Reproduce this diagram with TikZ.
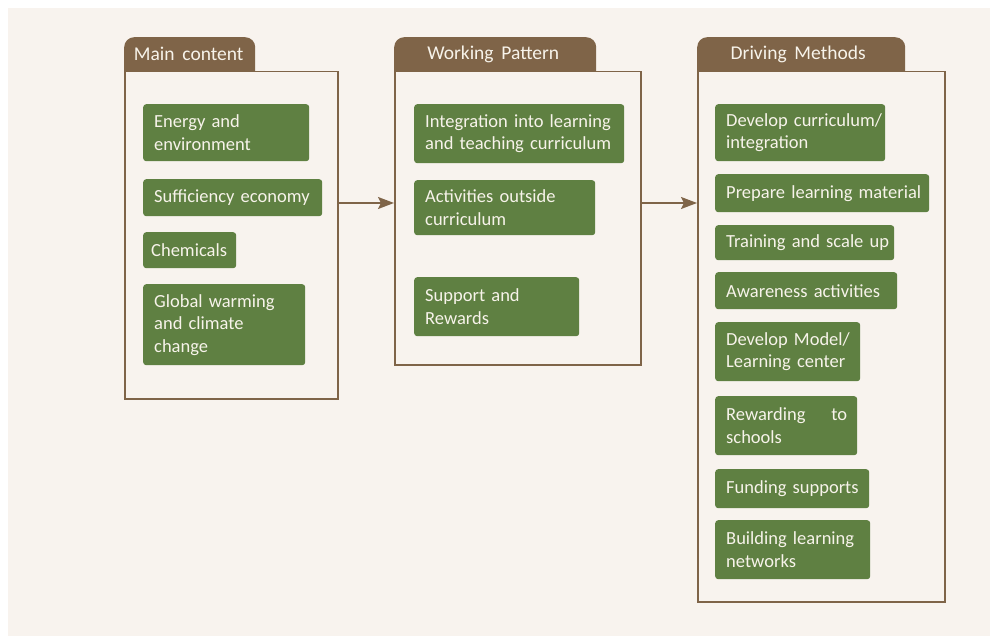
\documentclass[tikz,border=0pt]{standalone}
\usepackage{fontspec}
\setmainfont{Carlito}
\usepackage{xcolor}
\usepackage{tikz}
\usetikzlibrary{calc}
\usetikzlibrary{arrows.meta}
\usetikzlibrary{positioning}
\definecolor{bark}{HTML}{7F6448}
\definecolor{leaf}{HTML}{5F8042}
\definecolor{paper}{HTML}{F8F3EE}
\definecolor{chalk}{HTML}{F7F3EA}
\newcommand{\itemfont}{\fontsize{18.5}{22.5}\selectfont\spaceskip=0.42em plus 0.3em\relax\hbadness=10000\hfuzz=50pt}
\newcommand{\tabfont}{\fontsize{19.5}{22}\selectfont\spaceskip=0.4em\relax}
% one unbreakable line of a box text
\newcommand{\oneline}[1]{\mbox{#1}}
\tikzset{>=latex}
\tikzstyle{frame} = [rectangle, draw=bark, line width=1.5pt, fill=paper, anchor=north west, inner sep=0]
\tikzstyle{tab} = [rectangle, fill=bark, text=chalk, anchor=north west, inner sep=0, rounded corners=10pt]
\tikzstyle{item} = [rectangle, fill=leaf, text=chalk, anchor=north west, rounded corners=3pt, inner xsep=11pt, inner ysep=0, align=left, font=\itemfont]

\begin{document}
\begin{tikzpicture}[x=1pt, y=-1pt]
\fill [white] (0,0) rectangle (990,636);
\fill [paper] (8,8) rectangle (990,636);

% header tabs (lower corners hidden under the frames)
\node [tab, minimum width=131pt, minimum height=44pt] (mct) at (124,37) {};
\node [tab, minimum width=202pt, minimum height=44pt] (wpt) at (394,37) {};
\node [tab, minimum width=208pt, minimum height=44pt] (dmt) at (697,37) {};

% frames
\node [frame, minimum width=213pt, minimum height=327pt] (mc) at (124,71) {};
\node [frame, minimum width=246pt, minimum height=293pt] (wp) at (394,71) {};
\node [frame, minimum width=247pt, minimum height=530pt] (dm) at (697,71) {};

\node [text=chalk, font=\tabfont] at ($(mct.north)+(-1,17)$) {Main content};
\node [text=chalk, font=\tabfont] at ($(wpt.north)+(-2,17)$) {Working Pattern};
\node [text=chalk, font=\tabfont] at ($(dmt.north)+(-3,17)$) {Driving Methods};

% main content
\node [item, text width=144pt, minimum height=57pt] (mc1) at (143,104) {\oneline{Energy and}\\\oneline{environment}};
\node [item, text width=157pt, minimum height=37pt] (mc2) at (143,179) {\oneline{Sufficiency economy}};
\node [item, text width=77pt, minimum height=36pt, inner xsep=8pt] (mc3) at (143,232) {\oneline{Chemicals}};
\node [item, text width=140pt, minimum height=81pt] (mc4) at (143,284) {\oneline{Global warming}\\\oneline{and climate}\\\oneline{change}};

% working pattern
\node [item, text width=188pt, minimum height=59pt] (wp1) at (414,104) {\oneline{Integration into learning}\\\oneline{and teaching curriculum}};
\node [item, text width=159pt, minimum height=55pt] (wp2) at (414,180) {\oneline{Activities outside}\\\oneline{curriculum}};
\node [item, text width=143pt, minimum height=59pt] (wp3) at (414,277) {\oneline{Support and}\\\oneline{Rewards}};

% driving methods
\node [item, text width=148pt, minimum height=57pt] (dm1) at (715,104) {\oneline{Develop curriculum/}\\\oneline{integration}};
\node [item, text width=192pt, minimum height=38pt] (dm2) at (715,174) {\oneline{Prepare learning material}};
\node [item, text width=157pt, minimum height=35pt] (dm3) at (715,225) {\oneline{Training and scale up}};
\node [item, text width=160pt, minimum height=37pt] (dm4) at (715,272) {\oneline{Awareness activities}};
\node [item, text width=123pt, minimum height=59pt] (dm5) at (715,322) {\oneline{Develop Model/}\\\oneline{Learning center}};
\node [item, text width=120pt, minimum height=59pt] (dm6) at (715,396) {\makebox[121pt][l]{Rewarding\hfill to}\\\oneline{schools}};
\node [item, text width=132pt, minimum height=39pt] (dm7) at (715,469) {\oneline{Funding supports}};
\node [item, text width=133pt, minimum height=59pt] (dm8) at (715,520) {\oneline{Building learning}\\\oneline{networks}};

% links between the panels
\coordinate (a1) at (337,203);
\coordinate (a2) at (640,203);
\draw [-{Stealth[length=16pt, width=12pt, inset=3pt]}, draw=bark, fill=bark, line width=1.8pt] (a1) -- (a1 -| wp.west);
\draw [-{Stealth[length=16pt, width=12pt, inset=3pt]}, draw=bark, fill=bark, line width=1.8pt] (a2) -- (a2 -| dm.west);
\end{tikzpicture}
\end{document}
